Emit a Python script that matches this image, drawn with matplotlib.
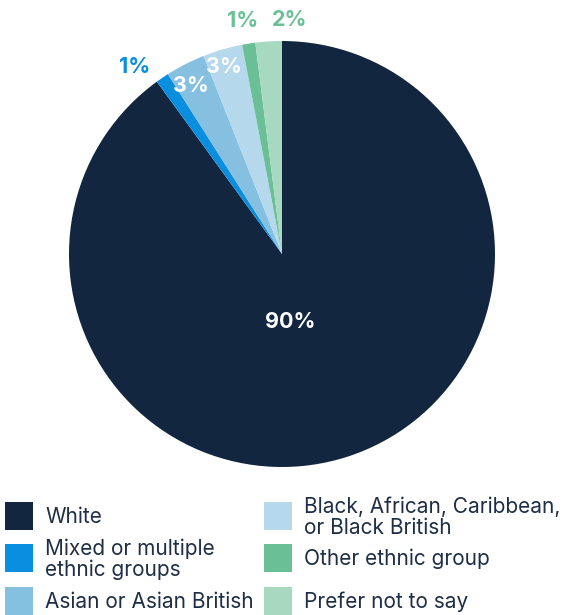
import numpy as np
import matplotlib
matplotlib.use('Agg')
import matplotlib.pyplot as plt
from matplotlib.patches import Rectangle

labels=['White','Mixed or multiple\nethnic groups','Asian or Asian British',
	'Black, African, Caribbean,\nor Black British','Other ethnic group','Prefer not to say']
values=[90,1,3,3,1,2]
colors=['#12263f','#0a8fe0','#85c0e0','#b5d8ec','#6abf97','#a7d8c0']
label_colors=['white','#0a8fe0','white','white','#6abf97','#6abf97']
label_dist=[0.32,1.12,0.90,0.92,1.11,1.10]
label_shift=[-11,4,1.5,1,0.5,-5.5]

plt.rcParams['font.family']=['Inter','DejaVu Sans']

fig=plt.figure(figsize=(5.72,6.15),dpi=100)
W,H=572,615
cx,cy,r=282,254,213
ax=fig.add_axes([(cx-r)/W,1-(cy+r)/H,2*r/W,2*r/H])
wedges,_=ax.pie(values,colors=colors,startangle=90,counterclock=False,
	wedgeprops=dict(linewidth=0))
ax.set_xlim(-1,1)
ax.set_ylim(-1,1)
ax.set_aspect('equal')
ax.axis('off')

# percentage labels near each wedge's middle angle
for w,v,c,d,s in zip(wedges,values,label_colors,label_dist,label_shift):
	ang=np.deg2rad((w.theta1+w.theta2)/2+s)
	ax.text(d*np.cos(ang),d*np.sin(ang),f'{v}%',ha='center',va='center',
		color=c,fontsize=15.5,fontweight='bold')

# legend in two columns
leg_x=[5,264]
leg_y=[516,558,601]
for i,(lab,col) in enumerate(zip(labels,colors)):
	x=leg_x[i//3]
	y=leg_y[i%3]
	fig.patches.append(Rectangle((x/W,1-(y+14)/H),28/W,28/H,
		transform=fig.transFigure,facecolor=col,edgecolor='none'))
	fig.text((x+40)/W,1-(y+1)/H,lab,ha='left',va='center',fontsize=15,
		color='#1e2e45',linespacing=1.05)

fig.savefig('out.png',dpi=100)
